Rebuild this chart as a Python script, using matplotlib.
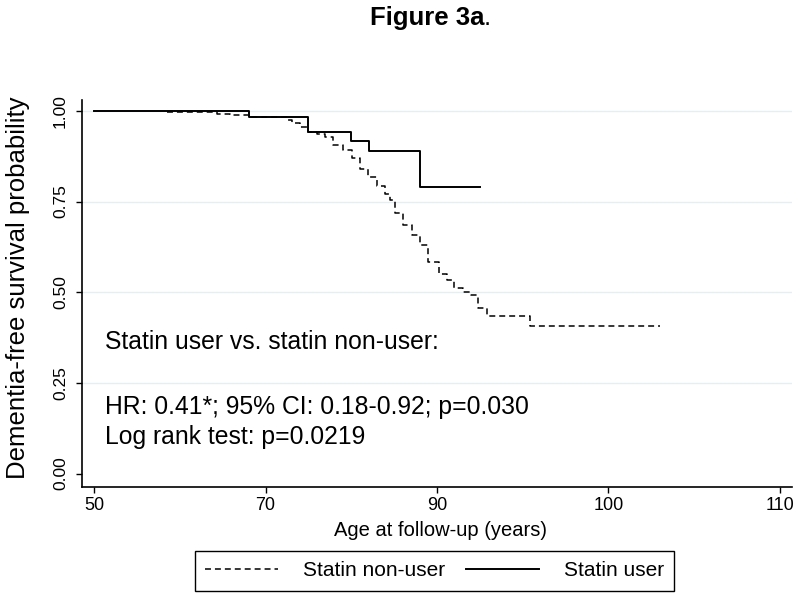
import matplotlib
matplotlib.use("Agg")
import matplotlib.pyplot as plt
import numpy as np

plt.rcParams['font.family'] = ['Liberation Sans', 'DejaVu Sans']

# Kaplan-Meier step data
# statin users (solid)
idade_user = [50.0, 68.1, 75.0, 80.0, 82.1, 88.0, 92.5]
surv_user = [1.000, 0.982, 0.941, 0.918, 0.890, 0.791, 0.791]

# statin non-users (dashed)
idade_non = [58.5, 64.3, 65.9, 68.1, 72.5, 73.1, 74.0, 75.0, 76.0, 76.9,
             77.9, 79.0, 80.1, 81.0, 82.0, 83.0, 83.9, 84.5, 85.1, 86.0,
             87.1, 88.0, 89.0, 90.1, 90.6, 91.0, 91.5, 92.0, 92.4, 92.9,
             95.4, 103.0]
surv_non = [0.997, 0.992, 0.989, 0.983, 0.975, 0.967, 0.956, 0.942, 0.937, 0.928,
            0.906, 0.892, 0.870, 0.840, 0.818, 0.793, 0.771, 0.754, 0.719, 0.686,
            0.658, 0.630, 0.583, 0.550, 0.534, 0.512, 0.501, 0.492, 0.457, 0.434,
            0.407, 0.407]

x_ticks = [50, 70, 90, 100, 110]
y_ticks = [0.00, 0.25, 0.50, 0.75, 1.00]
y_grid = [0.25, 0.50, 0.75, 1.00]

textos = ["Statin user vs. statin non-user:",
          "HR: 0.41*; 95% CI: 0.18-0.92; p=0.030",
          "Log rank test: p=0.0219"]


# eixo x do original tem marcas igualmente espacadas em 50,70,90,100,110
def fwd(a):
    a = np.asarray(a, dtype=float)
    return np.where(a < 70, (a - 50) / 20.0,
                    np.where(a < 90, 1 + (a - 70) / 20.0, 2 + (a - 90) / 10.0))


def inv(t):
    t = np.asarray(t, dtype=float)
    return np.where(t < 1, 50 + 20 * t,
                    np.where(t < 2, 70 + 20 * (t - 1), 90 + 10 * (t - 2)))


fig = plt.figure(figsize=(8, 5.97), dpi=100)
ax = fig.add_axes([0.1025, 0.1843, 0.8875, 0.6482])
ax.set_xscale('function', functions=(fwd, inv))

for g in y_grid:
    ax.axhline(g, color='#e6eff0', lw=1.0, zorder=0)

ax.step(idade_non, surv_non, where='post', color='black', lw=1.1,
        dashes=(3.9, 2.6), label='Statin non-user')
ax.step(idade_user, surv_user, where='post', color='black', lw=1.4,
        label='Statin user')

ax.set_xlim(48.6, 110.7)
ax.set_ylim(-0.037, 1.030)

ax.set_xticks(x_ticks)
ax.set_xticklabels([str(v) for v in x_ticks])
ax.set_yticks(y_ticks)
ax.set_yticklabels(['%.2f' % v for v in y_ticks], rotation=90, va='center')
ax.minorticks_off()

ax.tick_params(axis='x', length=4, width=1, pad=3, labelsize=13)
ax.tick_params(axis='y', length=4, width=1, pad=6, labelsize=12.5)

for s in ['top', 'right']:
    ax.spines[s].set_visible(False)
for s in ['left', 'bottom']:
    ax.spines[s].set_linewidth(1.2)

ax.set_ylabel("Dementia-free survival probability", fontsize=18.5, va='center')
ax.yaxis.set_label_coords(-0.090, 0.515)
ax.set_xlabel("Age at follow-up (years)", fontsize=14.5, va='top')
ax.xaxis.set_label_coords(0.5056, -0.088)

# textos do HR
ax.text(51.3, 0.363, textos[0], fontsize=17.8, va='center')
ax.text(51.3, 0.183, textos[1], fontsize=17.8, va='center')
ax.text(51.3, 0.101, textos[2], fontsize=17.8, va='center')

# titulo
fig.text(484 / 800, 0.970, "Figure 3a", fontsize=18.5, fontweight='bold',
         ha='right', va='center')
fig.text(484 / 800, 0.970, ".", fontsize=18.5, ha='left', va='center')

leg = ax.legend(loc='center', bbox_to_anchor=(0.543, 0.0436),
                bbox_transform=fig.transFigure, ncol=2, fontsize=15,
                handlelength=3.5, handletextpad=1.2, columnspacing=1.0,
                fancybox=False, framealpha=1, edgecolor='black',
                borderpad=0.5)
leg.get_frame().set_linewidth(1.0)

fig.savefig('out.png', dpi=100)
